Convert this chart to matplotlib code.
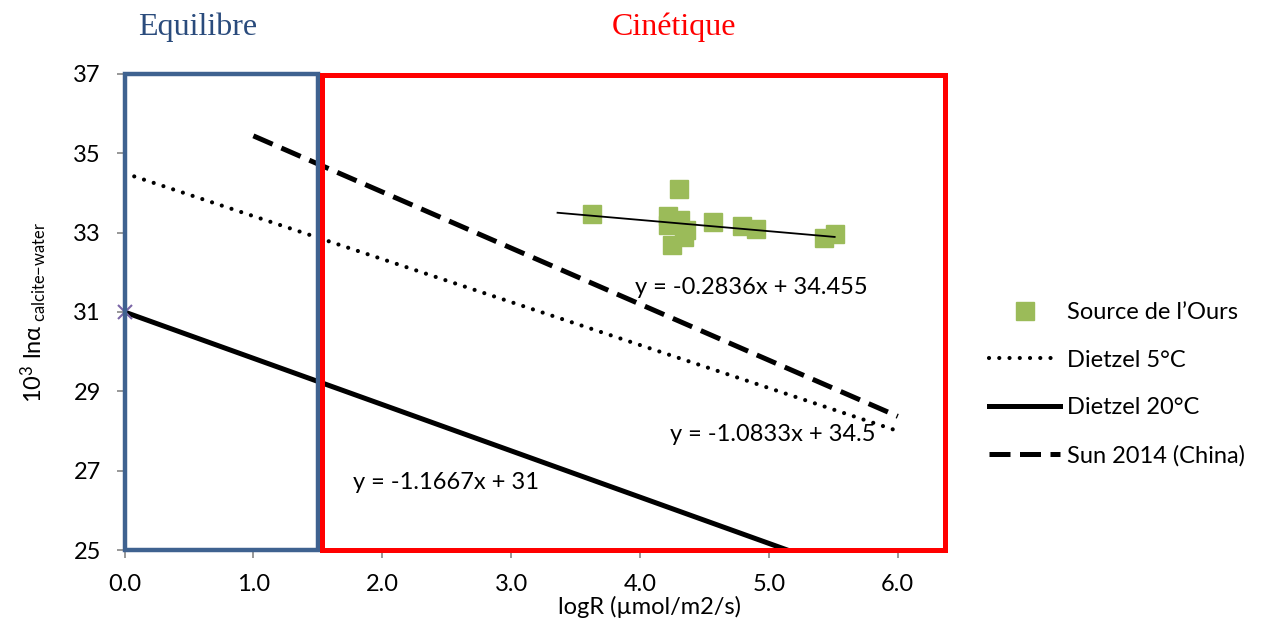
import numpy as np
import matplotlib
matplotlib.use('Agg')
import matplotlib.pyplot as plt
from matplotlib.patches import Rectangle

plt.rcParams['font.family'] = ['Lato', 'DejaVu Sans']
plt.rcParams['mathtext.fontset'] = 'custom'
plt.rcParams['mathtext.rm'] = 'Lato'
plt.rcParams['mathtext.it'] = 'Lato:italic'
plt.rcParams['mathtext.fallback'] = 'stixsans'

# Source de l'Ours (logR, 10^3 ln alpha)
ours_x = [3.63, 4.30, 4.22, 4.31, 4.36, 4.245, 4.22, 4.34, 4.57, 4.79, 4.90, 5.43, 5.51]
ours_y = [33.47, 34.10, 33.41, 33.32, 33.07, 32.69, 33.20, 32.90, 33.26, 33.18, 33.10, 32.86, 32.96]

# regressions
trend_x = [3.36, 5.51]
dietzel5_x = [0.0, 6.0]
dietzel20_x = [0.0, 6.0]
sun_x = [1.0, 6.0]
sun_y = [35.44, 28.37]

xticks = [0, 1, 2, 3, 4, 5, 6]
yticks = [25, 27, 29, 31, 33, 35, 37]

fig = plt.figure(figsize=(12.64, 6.18), dpi=100)
ax = fig.add_axes([0.0985, 0.11, 0.649, 0.7703])

ax.plot(dietzel5_x, [-1.0833 * x + 34.5 for x in dietzel5_x], color='black', lw=3.0,
        linestyle=(0, (0.01, 2.45)), dash_capstyle='round', label='Dietzel 5°C', zorder=3)
ax.plot(dietzel20_x, [-1.1667 * x + 31 for x in dietzel20_x], color='black', lw=3.6,
        label='Dietzel 20°C', zorder=3)
ax.plot(sun_x, sun_y, color='black', lw=3.6, linestyle=(0, (4.2, 1.9)),
        label='Sun 2014 (China)', zorder=3)
ax.plot([0], [31], marker='x', color='#7b66a6', ms=10, mew=1.5, ls='none', zorder=4, clip_on=False)

ax.plot(ours_x, ours_y, 's', color='#9bbb59', ms=13, mec='#9bbb59', ls='none',
        label="Source de l\u2019Ours", zorder=4)
ax.plot(trend_x, [-0.2836 * x + 34.455 for x in trend_x], color='black', lw=1.3, zorder=5)

# boxes
ax.add_patch(Rectangle((0, 25), 1.5, 12, fill=False, edgecolor='#3f6290', lw=3.2,
                       clip_on=False, zorder=6))
ax.add_patch(Rectangle((1.535, 25), 6.365 - 1.535, 11.97, fill=False, edgecolor='#ff0000',
                       lw=3.6, clip_on=False, zorder=6))

ax.text(3.96, 31.63, 'y = -0.2836x + 34.455', fontsize=17, va='center')
ax.text(4.23, 27.9, 'y = -1.0833x + 34.5', fontsize=17, va='center', zorder=7)
ax.text(1.77, 26.7, 'y = -1.1667x + 31', fontsize=17, va='center')

ax.set_xlim(0, 6.365)
ax.set_ylim(25, 37)
ax.set_xticks(xticks)
ax.set_xticklabels([f'{v:.1f}' for v in xticks])
ax.set_yticks(yticks)
ax.tick_params(axis='both', labelsize=17, color='#868686', length=6, width=1.2)
ax.tick_params(axis='x', pad=11)
ax.tick_params(axis='y', pad=11)
for s in ['top', 'right']:
    ax.spines[s].set_visible(False)
for s in ['left', 'bottom']:
    ax.spines[s].set_color('#868686')

ax.set_xlabel('logR (\u00b5mol/m2/s)', fontsize=17)
ax.xaxis.set_label_coords(0.64, -0.096)
ax.set_ylabel(r'$\mathrm{10^3\ ln\alpha_{\ calcite{-}water}}$', fontsize=17)
ax.yaxis.set_label_coords(-0.092, 0.5)

fig.text(198 / 1264, 1 - 27 / 618, 'Equilibre', family='Liberation Serif', fontsize=23,
         color='#2a4b7c', ha='center', va='center')
fig.text(674 / 1264, 1 - 27 / 618, 'Cinétique', family='Liberation Serif', fontsize=23,
         color='#ff0000', ha='center', va='center')

handles, labels = ax.get_legend_handles_labels()
order = [3, 0, 1, 2]
ax.legend([handles[i] for i in order], [labels[i] for i in order], frameon=False,
          fontsize=17, loc='upper left', bbox_to_anchor=(968 / 1264, 1 - 281 / 618),
          bbox_transform=fig.transFigure, handlelength=3.0, handletextpad=0.3,
          labelspacing=1.12)

fig.savefig('out.png', dpi=100)
